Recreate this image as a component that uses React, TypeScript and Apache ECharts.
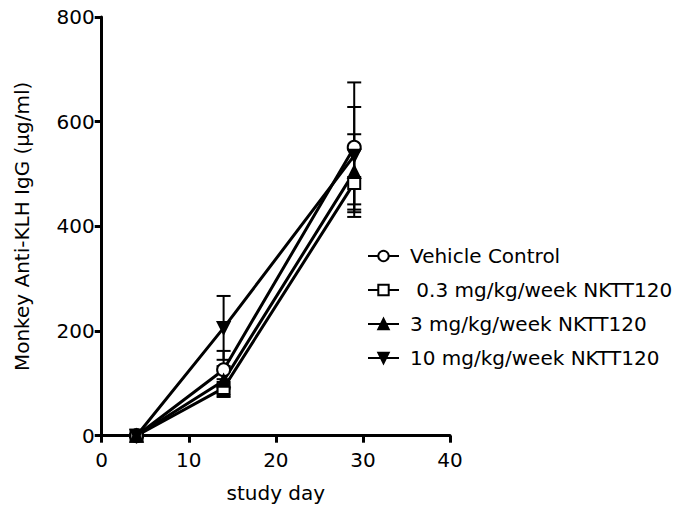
import React, { useEffect, useRef } from "react";
import * as echarts from "echarts";

const days = [4, 14, 29];
const seriesNames = [
  "Vehicle Control",
  " 0.3 mg/kg/week NKTT120",
  "3 mg/kg/week NKTT120",
  "10 mg/kg/week NKTT120",
];
const vehicleMean = [0, 126, 551];
const vehicleErr = [2, 36, 124];
const lowMean = [0, 91, 483];
const lowErr = [2, 17, 65];
const midMean = [0, 105, 504];
const midErr = [2, 28, 72];
const highMean = [0, 206, 535];
const highErr = [2, 61, 93];
const xTicks = { min: 0, max: 40, interval: 10 };
const yTicks = { min: 0, max: 800, interval: 200 };

const means = [vehicleMean, lowMean, midMean, highMean];
const errs = [vehicleErr, lowErr, midErr, highErr];
const symbols = ["circle", "rect", "triangle", "path://M0,0 L10,0 L5,9 Z"];
const fills = ["#ffffff", "#ffffff", "#000000", "#000000"];
const sizes = [13, 12, 12, 12];

export default function App() {
  const ref = useRef<HTMLDivElement>(null);
  useEffect(() => {
    if (!ref.current) return;
    const chart = echarts.init(ref.current, undefined, { renderer: "svg" });
    const font = "'DejaVu Sans', Arial, sans-serif";
    const series: any[] = [];
    means.forEach((m, si) => {
      series.push({
        type: "custom",
        name: seriesNames[si] + "_err",
        z: 1,
        silent: true,
        renderItem: (params: any, api: any) => {
          const x = api.value(0);
          const lo = api.coord([x, api.value(1)]);
          const hi = api.coord([x, api.value(2)]);
          const w = 7;
          const st = { stroke: "#000", lineWidth: 2 };
          return {
            type: "group",
            children: [
              { type: "line", shape: { x1: lo[0], y1: lo[1], x2: hi[0], y2: hi[1] }, style: st },
              { type: "line", shape: { x1: lo[0] - w, y1: lo[1], x2: lo[0] + w, y2: lo[1] }, style: st },
              { type: "line", shape: { x1: hi[0] - w, y1: hi[1], x2: hi[0] + w, y2: hi[1] }, style: st },
            ],
          };
        },
        data: days.map((d, i) => [d, m[i] - errs[si][i], m[i] + errs[si][i]]),
      });
    });
    means.forEach((m, si) => {
      series.push({
        type: "line",
        name: seriesNames[si],
        z: 3,
        data: days.map((d, i) => [d, m[i]]),
        symbol: symbols[si],
        symbolSize: sizes[si],
        lineStyle: { color: "#000", width: 3 },
        itemStyle: { color: fills[si], borderColor: "#000", borderWidth: 2 },
      });
    });
    chart.setOption({
      animation: false,
      backgroundColor: "#ffffff",
      grid: {
        left: 101.7,
        right: 226,
        top: 17,
        bottom: 72.3,
        containLabel: false,
        outerBoundsMode: "none",
      },
      legend: {
        data: seriesNames,
        orient: "vertical",
        left: 362,
        top: 241,
        itemWidth: 31,
        itemHeight: 13,
        itemGap: 14,
        textStyle: { fontFamily: font, fontSize: 20, color: "#000", padding: [0, 0, 0, 6] },
        selectedMode: false,
      },
      xAxis: {
        type: "value",
        min: xTicks.min,
        max: xTicks.max,
        interval: xTicks.interval,
        name: "study day",
        nameLocation: "middle",
        nameGap: 47,
        nameTextStyle: { fontFamily: font, fontSize: 20, color: "#000", verticalAlign: "top" },
        axisLine: { onZero: false, lineStyle: { color: "#000", width: 3 } },
        axisTick: { show: true, length: 7, lineStyle: { color: "#000", width: 3 } },
        axisLabel: { fontFamily: font, fontSize: 20, color: "#000", margin: 14 },
        splitLine: { show: false },
      },
      yAxis: {
        type: "value",
        min: yTicks.min,
        max: yTicks.max,
        interval: yTicks.interval,
        name: "Monkey Anti-KLH IgG (µg/ml)",
        nameLocation: "middle",
        nameGap: 70,
        nameRotate: 90,
        nameTextStyle: { fontFamily: font, fontSize: 20, color: "#000" },
        axisLine: { onZero: false, lineStyle: { color: "#000", width: 3 } },
        axisTick: { show: true, length: 7, lineStyle: { color: "#000", width: 3 } },
        axisLabel: { fontFamily: font, fontSize: 20, color: "#000", margin: 7 },
        splitLine: { show: false },
      },
      series,
    });
    return () => chart.dispose();
  }, []);
  return (
    <div
      ref={ref}
      style={{ position: "absolute", left: 0, top: 0, width: 676, height: 508 }}
    />
  );
}
